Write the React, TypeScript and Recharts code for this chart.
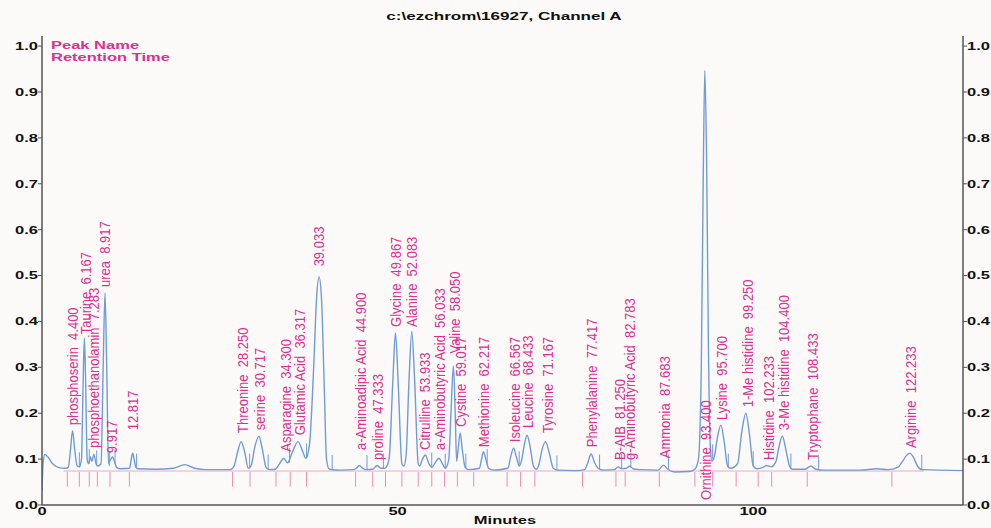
import React from "react";
import {
  ComposedChart,
  Line,
  Scatter,
  XAxis,
  YAxis,
  ReferenceLine,
} from "recharts";

// ---- data ----
const tracePoints: [number, number][] = [
  [0, 0.03], [0.15, 0.09], [0.4, 0.11], [0.8, 0.105], [1.5, 0.09], [2.5, 0.081], [3.3, 0.08],
  [3.7, 0.082], [4.0, 0.12], [4.3, 0.162], [4.6, 0.12], [4.95, 0.085], [5.25, 0.083],
  [5.55, 0.1], [5.8, 0.28], [5.96, 0.364], [6.12, 0.28], [6.35, 0.1], [6.55, 0.09],
  [6.8, 0.105], [7.0, 0.095], [7.3, 0.11], [7.6, 0.09], [7.8, 0.085],
  [8.3, 0.09], [8.6, 0.3], [8.86, 0.462], [9.1, 0.3], [9.35, 0.09],
  [9.6, 0.098], [9.9, 0.105], [10.2, 0.095], [10.5, 0.082], [11, 0.079],
  [12.3, 0.08], [12.55, 0.1], [12.75, 0.113], [12.95, 0.1], [13.2, 0.082], [13.5, 0.079],
  [16, 0.078], [18.5, 0.08], [20.1, 0.088], [21.5, 0.08], [23, 0.077], [26.5, 0.077],
  [27.0, 0.085], [27.5, 0.115], [28.0, 0.138], [28.5, 0.115], [29.0, 0.08],
  [29.4, 0.085], [29.9, 0.125], [30.5, 0.15], [31.0, 0.12], [31.5, 0.082], [32.0, 0.077], [32.8, 0.078],
  [33.4, 0.09], [34.0, 0.102], [34.5, 0.092],
  [35.2, 0.115], [36.0, 0.138], [36.7, 0.115], [37.1, 0.102],
  [37.6, 0.13], [38.2, 0.3], [38.6, 0.45], [38.96, 0.497], [39.3, 0.45], [39.7, 0.25], [40.0, 0.1], [40.4, 0.078],
  [42, 0.076], [43.8, 0.077],
  [44.2, 0.08], [44.6, 0.086], [45.1, 0.08], [45.6, 0.077],
  [46.5, 0.078], [47.1, 0.086], [47.7, 0.08], [48.2, 0.08],
  [48.8, 0.1], [49.3, 0.26], [49.7, 0.375], [50.1, 0.26], [50.6, 0.09], [50.9, 0.085],
  [51.2, 0.11], [51.6, 0.27], [52.0, 0.378], [52.4, 0.27], [52.9, 0.09], [53.1, 0.085],
  [53.5, 0.1], [53.9, 0.109], [54.4, 0.09], [54.8, 0.082],
  [55.4, 0.095], [55.8, 0.102], [56.3, 0.09], [56.7, 0.08],
  [57.2, 0.1], [57.5, 0.2], [57.85, 0.303], [58.1, 0.2], [58.3, 0.095],
  [58.5, 0.12], [58.8, 0.157], [59.1, 0.12], [59.5, 0.082], [60, 0.077],
  [61.5, 0.08], [61.8, 0.1], [62.07, 0.116], [62.4, 0.1], [62.8, 0.08], [63.5, 0.076],
  [65.5, 0.08], [65.9, 0.105], [66.3, 0.124], [66.7, 0.105], [67.1, 0.085],
  [67.4, 0.095], [67.8, 0.13], [68.2, 0.152], [68.6, 0.13], [69.1, 0.085], [69.5, 0.078],
  [69.9, 0.09], [70.3, 0.12], [70.8, 0.138], [71.3, 0.115], [71.9, 0.08], [72.5, 0.076],
  [75, 0.075], [76.3, 0.077],
  [76.7, 0.09], [77.2, 0.111], [77.7, 0.092], [78.2, 0.08], [79, 0.076],
  [80.5, 0.077], [81.0, 0.083], [81.5, 0.079],
  [82.2, 0.08], [82.6, 0.085], [83.1, 0.079], [84, 0.077],
  [86.6, 0.076], [87.4, 0.087], [88.0, 0.078], [89, 0.072], [91, 0.073], [91.8, 0.078],
  [92.3, 0.1], [92.7, 0.3], [93.0, 0.75], [93.2, 0.947], [93.45, 0.75], [93.7, 0.35], [94.0, 0.12], [94.2, 0.096],
  [94.6, 0.11], [95.0, 0.15], [95.45, 0.174], [95.9, 0.14], [96.4, 0.085], [96.8, 0.08],
  [97.8, 0.09], [98.4, 0.16], [98.97, 0.2], [99.5, 0.15], [100.0, 0.085], [100.5, 0.079],
  [101.4, 0.082], [101.9, 0.086], [102.5, 0.083],
  [103.2, 0.095], [103.6, 0.125], [104.1, 0.15], [104.6, 0.12], [105.1, 0.085], [105.5, 0.078],
  [107.3, 0.078], [108.1, 0.085], [108.8, 0.078], [110, 0.076],
  [115, 0.076], [117.4, 0.079], [119, 0.077], [120.3, 0.082],
  [121.0, 0.095], [121.5, 0.107], [122.0, 0.113], [122.5, 0.105], [123.1, 0.085], [123.7, 0.077], [129.5, 0.075],
];

const peakNames: string[] = [
  "phosphoserin", "Taurine", "phosphoethanolamin", "urea", "", "",
  "Threonine", "serine", "Asparagine", "Glutamic Acid", "",
  "a-Aminoadipic Acid", "proline", "Glycine", "Alanine", "Citrulline",
  "a-Aminobutyric Acid", "Valine", "Cystine", "Methionine", "Isoleucine",
  "Leucine", "Tyrosine", "Phenylalanine", "B-AIB", "g-Aminobutyric Acid",
  "Ammonia", "Ornithine", "Lysine", "1-Me histidine", "Histidine",
  "3-Me histidine", "Tryptophane", "Arginine",
];
const retentionTimes: number[] = [
  4.4, 6.167, 7.283, 8.917, 9.917, 12.817,
  28.25, 30.717, 34.3, 36.317, 39.033,
  44.9, 47.333, 49.867, 52.083, 53.933,
  56.033, 58.05, 59.017, 62.217, 66.567,
  68.433, 71.167, 77.417, 81.25, 82.783,
  87.683, 93.4, 95.7, 99.25, 102.233,
  104.4, 108.433, 122.233,
];
const labelLevels: number[] = [
  0.174, 0.372, 0.124, 0.475, 0.113, 0.163,
  0.157, 0.163, 0.116, 0.152, 0.52,
  0.12, 0.098, 0.388, 0.388, 0.12,
  0.12, 0.33, 0.17, 0.126, 0.137,
  0.168, 0.157, 0.126, 0.098, 0.098,
  0.102, 0.011, 0.185, 0.213, 0.098,
  0.163, 0.098, 0.124,
];
const markerTimes: number[] = [
  3.56, 5.25, 6.65, 7.78, 9.56, 12.28,
  26.8, 29.25, 32.9, 34.9, 37.2, 44.1, 46.5, 48.3,
  50.6, 52.9, 54.8, 56.6, 58.4, 60.7, 65.4, 67.3, 69.3, 76.0,
  80.7, 82.0, 86.8, 91.8, 94.3, 97.6, 100.7, 102.6, 107.6, 119.5,
];
const peakEnds: { t: number; v: number }[] = [
  { t: 5.25, v: 0.083 }, { t: 6.65, v: 0.09 }, { t: 7.69, v: 0.087 }, { t: 9.47, v: 0.085 },
  { t: 10.27, v: 0.09 }, { t: 13.3, v: 0.08 }, { t: 29.2, v: 0.08 }, { t: 31.8, v: 0.078 },
  { t: 34.8, v: 0.092 }, { t: 37.2, v: 0.102 }, { t: 40.8, v: 0.077 }, { t: 45.7, v: 0.077 },
  { t: 48.0, v: 0.08 }, { t: 54.8, v: 0.082 }, { t: 56.7, v: 0.08 }, { t: 59.6, v: 0.08 },
  { t: 62.6, v: 0.09 }, { t: 67.1, v: 0.085 }, { t: 72.4, v: 0.076 }, { t: 78.4, v: 0.078 },
  { t: 81.5, v: 0.079 }, { t: 82.8, v: 0.082 }, { t: 88.1, v: 0.078 }, { t: 94.3, v: 0.1 },
  { t: 96.5, v: 0.08 }, { t: 100.0, v: 0.085 }, { t: 105.3, v: 0.08 }, { t: 109.2, v: 0.077 },
  { t: 123.7, v: 0.077 },
];
const yTicks: number[] = [0, 0.1, 0.2, 0.3, 0.4, 0.5, 0.6, 0.7, 0.8, 0.9, 1.0];
const xTicks: number[] = [0, 50, 100];
const titleText = "c:\\ezchrom\\16927, Channel A";
const xTitle = "Minutes";
const legendLines = ["Peak Name", "Retention Time"];

// ---- derived tables ----
const trace = tracePoints.map(([t, v]) => ({ t, v }));
const labels = retentionTimes.map((rt, i) => ({
  t: rt,
  v: labelLevels[i],
  text: peakNames[i] ? `${peakNames[i]}  ${rt.toFixed(3)}` : rt.toFixed(3),
}));

const FONT = "'Liberation Sans', Arial, Helvetica, sans-serif";
const MAGENTA = "#de2f8f";
const TRACE = "#6f9bd8";
const AXIS = "#555";
const BG = "#fcfaf8";

const LeftTick = (props: any) => {
  const { x, y, payload } = props;
  return (
    <g transform={`translate(${x},${y})`}>
      <text transform="scale(1.5,1)" textAnchor="end" dominantBaseline="central" fontSize={11} fontWeight="bold" fill="#111" fontFamily={FONT}>
        {Number(payload.value).toFixed(1)}
      </text>
    </g>
  );
};
const RightTick = (props: any) => {
  const { x, y, payload } = props;
  return (
    <g transform={`translate(${x},${y})`}>
      <text transform="scale(1.5,1)" textAnchor="start" dominantBaseline="central" fontSize={11} fontWeight="bold" fill="#111" fontFamily={FONT}>
        {Number(payload.value).toFixed(1)}
      </text>
    </g>
  );
};
const BottomTick = (props: any) => {
  const { x, y, payload } = props;
  return (
    <g transform={`translate(${x},${y})`}>
      <text transform="scale(1.5,1)" y={10} textAnchor="middle" fontSize={11} fontWeight="bold" fill="#111" fontFamily={FONT}>
        {String(payload.value)}
      </text>
    </g>
  );
};
const PeakLabel = (props: any) => {
  const { cx, cy, payload } = props;
  if (cx == null || cy == null) return <g />;
  return (
    <text
      transform={`translate(${cx},${cy}) scale(1.1,1) rotate(-90)`}
      fontSize={13}
      fill={MAGENTA}
      fontFamily={FONT}
      dominantBaseline="central"
      textAnchor="start"
      style={{ whiteSpace: "pre" }}
    >
      {payload.text}
    </text>
  );
};

const X_MAX = 129.5;
const Y_MAX = 1.022;

export default function App() {
  return (
    <div style={{ position: "absolute", left: 0, top: 0, width: 991, height: 528, background: BG, overflow: "hidden" }}>
      <ComposedChart width={991} height={528} margin={{ top: 36, right: 0, bottom: 0, left: 6 }}>
        <XAxis
          dataKey="t"
          type="number"
          domain={[0, X_MAX]}
          ticks={xTicks}
          allowDataOverflow
          tickLine={false}
          tickSize={0}
          tickMargin={0}
          height={23}
          axisLine={{ stroke: AXIS, strokeWidth: 1.5 }}
          tick={<BottomTick />}
        />
        <XAxis
          xAxisId="top"
          orientation="top"
          type="number"
          domain={[0, X_MAX]}
          height={0}
          tick={false}
          tickLine={false}
          axisLine={{ stroke: AXIS, strokeWidth: 1.5 }}
        />
        <YAxis
          type="number"
          domain={[0, Y_MAX]}
          ticks={yTicks}
          allowDataOverflow
          width={36}
          tickSize={4}
          tickMargin={0}
          tickLine={{ stroke: AXIS }}
          axisLine={{ stroke: AXIS, strokeWidth: 1.5 }}
          tick={<LeftTick />}
        />
        <YAxis
          yAxisId="right"
          orientation="right"
          type="number"
          domain={[0, Y_MAX]}
          ticks={yTicks}
          allowDataOverflow
          width={28}
          tickSize={4}
          tickMargin={0}
          tickLine={{ stroke: AXIS }}
          axisLine={{ stroke: AXIS, strokeWidth: 1.5 }}
          tick={<RightTick />}
        />
        <ReferenceLine
          segment={[{ x: 3, y: 0.074 }, { x: 124, y: 0.074 }]}
          stroke="#f0a8c6"
          strokeWidth={1}
        />
        {markerTimes.map((t) => (
          <ReferenceLine
            key={"m" + t}
            segment={[{ x: t, y: 0.04 }, { x: t, y: 0.072 }]}
            stroke="#ec8cb4"
            strokeWidth={1}
          />
        ))}
        {peakEnds.map((p) => (
          <ReferenceLine
            key={"e" + p.t}
            segment={[{ x: p.t, y: p.v }, { x: p.t, y: p.v + 0.032 }]}
            stroke={TRACE}
            strokeWidth={1}
          />
        ))}
        <Line
          data={trace}
          dataKey="v"
          type="monotone"
          stroke={TRACE}
          strokeWidth={1.4}
          dot={false}
          activeDot={false}
          isAnimationActive={false}
        />
        <Scatter
          data={labels}
          dataKey="v"
          shape={<PeakLabel />}
          isAnimationActive={false}
        />
      </ComposedChart>
      <div
        style={{
          position: "absolute",
          left: 504,
          top: 9,
          transform: "translateX(-50%) scaleX(1.55)",
          fontFamily: FONT,
          fontSize: 11,
          fontWeight: "bold",
          color: "#111",
          whiteSpace: "pre",
          lineHeight: "14px",
        }}
      >
        {titleText}
      </div>
      <div
        style={{
          position: "absolute",
          left: 505,
          top: 513,
          transform: "translateX(-50%) scaleX(1.5)",
          fontFamily: FONT,
          fontSize: 11,
          fontWeight: "bold",
          color: "#111",
          lineHeight: "14px",
        }}
      >
        {xTitle}
      </div>
      <div
        style={{
          position: "absolute",
          left: 51,
          top: 40,
          transform: "scaleX(1.5)",
          transformOrigin: "0 0",
          fontFamily: FONT,
          fontSize: 11,
          fontWeight: "bold",
          color: MAGENTA,
          lineHeight: "11.5px",
        }}
      >
        {legendLines.map((l) => (
          <div key={l} style={{ whiteSpace: "pre" }}>{l}</div>
        ))}
      </div>
    </div>
  );
}
